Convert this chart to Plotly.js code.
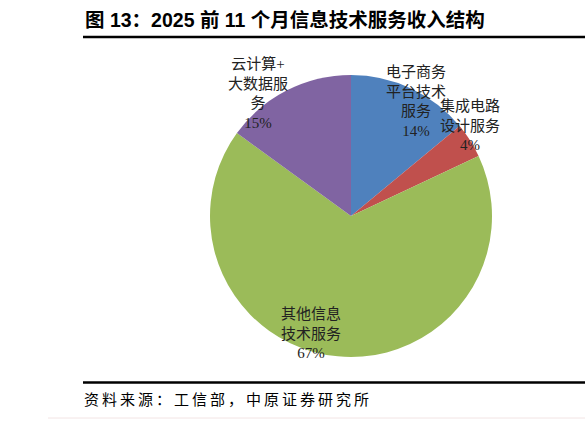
<!DOCTYPE html>
<html>
<head>
<meta charset="utf-8">
<script src="https://cdn.plot.ly/plotly-3.0.1.min.js"></script>
<style>html,body{margin:0;padding:0;background:#fff;}#chart{width:585px;height:421px;}</style>
</head>
<body>
<div id="chart"></div>
<script>
const categories = ["电子商务平台技术服务", "集成电路设计服务", "其他信息技术服务", "云计算+大数据服务"];
const labelLines = ["电子商务<br>平台技术<br>服务", "集成电路<br>设计服务", "其他信息<br>技术服务", "云计算+<br>大数据服<br>务"];
const values = [14, 4, 67, 15];
const colors = ["#4F81BD", "#C0504D", "#9BBB59", "#8064A2"];
const titleText = "图 13：2025 前 11 个月信息技术服务收入结构";
const sourceText = "资料来源：工信部，中原证券研究所";

const W = 585, H = 421;
const cx = 351, cy = 216, r = 141;
const px = x => x / W;
const py = y => 1 - y / H;

const labelPos = [[416, 101], [470, 125], [311, 333], [258, 93]];
const total = values.reduce((a, b) => a + b, 0);

const serif = '"Liberation Serif", "Noto Sans CJK SC", serif';
const spaced = s => Array.from(s).join('\u2009');

const annotations = categories.map((c, i) => ({
  xref: 'paper', yref: 'paper',
  x: px(labelPos[i][0]), y: py(labelPos[i][1]),
  text: labelLines[i] + '<br>' + Math.round(values[i] / total * 100) + '%',
  showarrow: false, align: 'center', xanchor: 'center', yanchor: 'middle',
  font: {family: serif, size: 15, color: '#222'}
}));
annotations.push({
  xref: 'paper', yref: 'paper', x: px(83), y: py(20), xanchor: 'left', yanchor: 'middle',
  text: '<b>' + titleText + '</b>', showarrow: false,
  font: {family: '"Liberation Sans", "Noto Sans CJK SC", sans-serif', size: 19.5, color: '#000'}
});
annotations.push({
  xref: 'paper', yref: 'paper', x: px(82), y: py(400), xanchor: 'left', yanchor: 'middle',
  text: spaced(sourceText), showarrow: false,
  font: {family: serif, size: 15, color: '#000'}
});

const data = [{
  type: 'pie',
  labels: categories,
  values: values,
  marker: {colors: colors, line: {width: 0}},
  sort: false,
  direction: 'clockwise',
  rotation: 0,
  textinfo: 'none',
  hoverinfo: 'label+percent',
  domain: {x: [px(cx - r), px(cx + r)], y: [py(cy + r), py(cy - r)]}
}];

const layout = {
  width: W, height: H,
  margin: {l: 0, r: 0, t: 0, b: 0},
  paper_bgcolor: '#fff',
  showlegend: false,
  annotations: annotations,
  shapes: [
    {type: 'line', xref: 'paper', yref: 'paper', x0: px(83), x1: 1, y0: py(37), y1: py(37), line: {color: '#000', width: 2.5}},
    {type: 'line', xref: 'paper', yref: 'paper', x0: px(83), x1: 1, y0: py(382.5), y1: py(382.5), line: {color: '#000', width: 2.5}},
    {type: 'line', xref: 'paper', yref: 'paper', x0: px(48), x1: 1, y0: py(418), y1: py(418), line: {color: '#f2e4e4', width: 1}}
  ]
};

Plotly.newPlot('chart', data, layout, {displayModeBar: false, staticPlot: true});
</script>
</body>
</html>
